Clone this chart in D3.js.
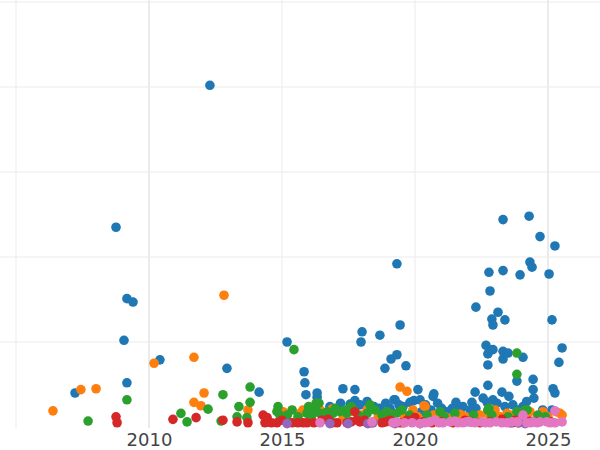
<!DOCTYPE html>
<html>
<head>
<meta charset="utf-8">
<script src="https://cdn.jsdelivr.net/npm/d3@7"></script>
<style>
  body { margin: 0; background: #fff; }
  svg { display: block; font-family: "DejaVu Sans", sans-serif; }
</style>
</head>
<body>
<div id="chart"></div>
<script>
// tick labels on the x axis
var tickYears = [2005, 2010, 2015, 2020, 2025];
var gridValues = [100, 200, 300, 400, 500];

// series: [year, value]
var blueSeries = [
  [2012.29,402],[2008.76,235],[2009.17,151],[2009.40,147],[2009.06,102],[2009.17,52],[2007.22,40],
  [2010.41,79],[2012.93,69],[2014.14,41],[2015.19,100],[2015.83,65],[2015.86,52],[2015.90,38],
  [2016.32,40],[2016.32,35],[2017.29,45],[2017.74,44],[2018.01,112],[2017.97,100],[2018.68,108],
  [2019.32,192],[2019.44,120],[2018.87,69],[2019.10,80],[2019.32,85],[2019.66,72],[2020.11,44],
  [2020.68,36],[2020.71,39],[2019.96,31],[2019.25,32],[2017.74,31],[2017.56,27],[2017.93,26],
  [2018.68,22],[2019.06,22],[2019.55,24],[2019.81,29],[2021.20,18],[2018.46,24],[2019.21,32],
  [2022.29,141],[2022.78,182],[2022.82,160],[2022.89,127],[2022.93,120],[2023.12,135],[2023.38,126],
  [2023.31,244],[2023.31,184],[2024.29,248],[2024.70,224],[2024.32,194],[2024.40,188],[2023.95,179],
  [2025.04,180],[2025.26,213],[2025.15,126],[2022.67,96],[2022.74,86],[2022.93,91],[2023.31,89],
  [2023.50,87],[2023.31,80],[2024.06,82],[2022.74,73],[2023.83,54],[2024.44,56],[2024.44,44],
  [2024.47,34],[2022.74,49],[2022.26,41],[2023.27,41],[2023.53,36],[2021.54,29],[2021.80,24],
  [2022.14,29],[2022.29,22],[2022.56,34],[2022.71,29],[2022.93,32],[2023.08,28],[2023.38,24],
  [2023.68,26],[2024.06,24],[2025.19,45],[2025.26,40],[2025.41,76],[2025.53,93],[2025.15,20],
  [2022.07,20],[2020.19,32],[2020.40,26],[2021.00,22],[2020.85,28],[2021.40,22],
  [2018.20,30],[2018.90,28],[2019.40,26],[2020.60,20],[2021.70,20],[2020.25,18],[2023.90,20],
  [2024.80,20],[2016.80,24],[2017.20,28],[2024.20,30]
];
var orangeSeries = [
  [2006.39,19],[2007.44,44],[2008.01,45],[2010.19,75],[2011.69,82],[2012.82,155],[2012.07,40],
  [2011.69,29],[2011.95,25],[2013.72,20],[2019.44,47],[2019.70,42],[2019.92,20],[2020.38,24],
  [2016.88,21],[2015.79,20],[2017.56,18],[2018.20,20],[2018.61,11],[2022.44,14],[2023.57,14],
  [2023.95,16],[2024.81,18],[2025.53,14],[2024.32,18],[2021.39,11],[2023.01,20],[2015.68,16],
  [2021.13,12],[2023.46,16],[2023.76,14],[2025.45,16],[2020.34,25],[2015.04,18],[2016.43,20],
  [2021.69,15],[2022.26,12],[2019.10,14],[2020.90,16],[2024.60,12],
  [2016.10,14],[2017.30,12],[2018.00,14],[2018.90,16],[2019.60,12],[2020.10,12],[2020.70,14],
  [2021.90,12],[2022.70,16],[2023.20,12],[2024.10,14],[2025.00,12],[2025.30,18]
];
var greenSeries = [
  [2007.71,7],[2009.17,32],[2011.20,16],[2011.43,6],[2012.22,21],[2012.78,38],[2013.80,47],
  [2013.80,29],[2013.38,24],[2013.31,12],[2012.71,7],[2013.68,11],[2014.85,24],[2014.81,18],
  [2015.38,20],[2015.45,91],[2016.39,28],[2016.28,28],[2015.98,18],[2016.43,16],[2016.92,16],
  [2017.18,18],[2017.37,20],[2017.86,14],[2018.20,16],[2018.76,14],[2019.06,11],[2014.92,14],
  [2015.94,16],[2016.13,14],[2017.44,16],[2020.45,14],[2021.50,16],[2022.74,20],[2022.89,14],
  [2023.83,18],[2024.14,20],[2024.62,14],[2022.78,22],[2023.83,87],[2023.83,62],[2024.21,20],
  [2016.24,22],[2018.31,26],[2019.51,20],[2020.94,18],[2017.60,24],[2018.95,18],[2016.60,12],
  [2017.00,22],[2015.60,12],[2019.80,14],
  [2016.00,24],[2016.70,18],[2017.70,20],[2018.50,20],[2019.30,16],[2021.10,12],[2022.20,14],
  [2023.50,12],[2024.90,12],[2014.95,10],[2015.20,14]
];
var redSeries = [
  [2008.76,12],[2008.80,5],[2010.90,9],[2011.77,11],[2012.78,8],[2013.31,6],[2013.72,5],
  [2014.29,14],[2014.44,11],[2014.36,5],[2014.81,5],[2015.38,5],[2015.79,5],[2015.94,5],
  [2016.73,9],[2017.07,5],[2017.74,18],[2017.82,8],[2017.44,5],[2018.38,5],[2018.76,5],
  [2017.93,6],[2019.44,5],[2020.64,5],[2019.55,5],[2022.44,5],[2021.43,5],[2023.27,9],
  [2023.65,5],[2023.31,7],[2023.76,8],[2015.00,8],[2016.50,8],[2019.06,8],[2020.00,11],
  [2021.88,8],[2024.32,7],[2019.70,8],[2018.10,8],[2022.10,6],
  [2014.60,5],[2015.60,5],[2016.20,5],[2016.90,5],[2017.60,6],[2018.20,5],[2018.90,6],
  [2020.30,6],[2021.00,6],[2022.80,6],[2023.90,5],[2024.60,6],[2025.10,6]
];
var purpleSeries = [
  [2015.19,4],[2016.80,4],[2017.48,4],[2018.23,4],[2018.42,5],[2023.57,5],[2023.87,5],
  [2024.14,4],[2019.25,4],[2020.19,4]
];
var pinkSeries = [
  [2016.43,5],[2018.38,6],[2019.17,5],[2019.32,6],[2019.89,5],[2020.19,4],[2020.38,5],
  [2020.75,8],[2021.05,5],[2021.32,6],[2021.62,5],[2021.95,6],[2022.26,5],[2022.82,5],
  [2023.27,5],[2024.06,14],[2024.21,5],[2024.44,6],[2024.59,5],[2024.70,6],[2024.96,6],
  [2025.26,19],[2025.26,5],[2025.53,6],[2020.56,6],[2021.50,7],[2022.52,6],[2023.65,6],
  [2019.60,5],[2020.90,5],[2021.80,5],[2022.05,6],[2022.65,5],[2023.05,6],[2023.45,5],
  [2023.85,6],[2024.35,5],[2025.10,5]
];

var seriesList = [blueSeries, orangeSeries, greenSeries, redSeries, purpleSeries, pinkSeries];
var colors = ["#1f77b4", "#ff7f0e", "#2ca02c", "#d62728", "#9467bd", "#e377c2"];

var width = 600, height = 450;
var plotBottom = 428;

var svg = d3.select("#chart").append("svg")
    .attr("width", width)
    .attr("height", height);

var x = d3.scaleLinear()
    .domain([2010 - 149 / 26.6, 2010 + 451 / 26.6])
    .range([0, width]);

var y = d3.scaleLinear()
    .domain([0, 500])
    .range([427, 2]);

// grid
svg.append("g").selectAll("line")
    .data(gridValues)
    .enter()
    .append("line")
    .attr("x1", 0).attr("x2", width)
    .attr("y1", function(d) { return y(d); })
    .attr("y2", function(d) { return y(d); })
    .style("stroke", "#ebebeb")
    .style("stroke-width", 1);

svg.append("g").selectAll("line")
    .data(tickYears)
    .enter()
    .append("line")
    .attr("x1", function(d) { return x(d); })
    .attr("x2", function(d) { return x(d); })
    .attr("y1", 0).attr("y2", plotBottom)
    .style("stroke", "#ebebeb")
    .style("stroke-width", function(d) { return (d == 2010 || d == 2025) ? 2 : 1; });

// x axis labels
var xAxis = d3.axisBottom(x)
    .tickValues(tickYears.slice(1))
    .tickFormat(d3.format("d"))
    .tickSize(0)
    .tickPadding(0);

var gx = svg.append("g")
    .attr("transform", "translate(0," + 433 + ")")
    .call(xAxis);
gx.select(".domain").remove();
gx.selectAll("text")
    .attr("dy", "0.71em")
    .style("font-size", "18px")
    .style("font-family", "DejaVu Sans, sans-serif")
    .style("fill", "#444");

// points
seriesList.forEach(function(series, i) {
    svg.append("g").selectAll("circle")
        .data(series)
        .enter()
        .append("circle")
        .attr("cx", function(d) { return x(d[0]); })
        .attr("cy", function(d) { return y(d[1]); })
        .attr("r", 4.8)
        .style("fill", colors[i]);
});
</script>
</body>
</html>
